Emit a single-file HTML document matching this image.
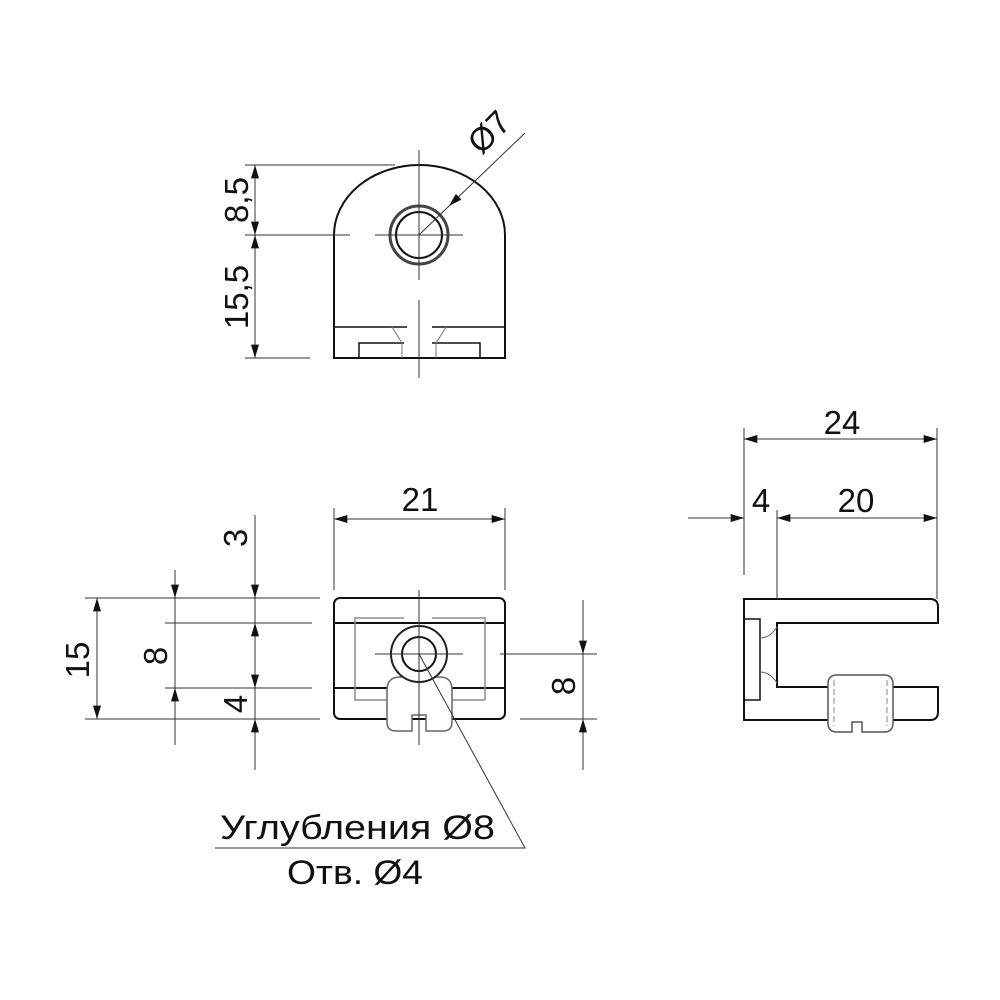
<!DOCTYPE html>
<html><head><meta charset="utf-8"><style>body{margin:0;background:#fff}svg{display:block}</style></head><body>
<svg width="1000" height="1000" viewBox="0 0 1000 1000" xmlns="http://www.w3.org/2000/svg" font-family="Liberation Sans, sans-serif" fill="none" stroke="#111">
<defs>
<marker id="a" viewBox="0 0 10 6" refX="10" refY="3" markerWidth="22" markerHeight="8" markerUnits="userSpaceOnUse" orient="auto-start-reverse"><path d="M0,0 L10,3 L0,6z" fill="#111" stroke="none"/></marker>
</defs>
<g stroke-width="2">
<path d="M334,358 L334,235 A85.5,70 0 0 1 505,235 L505,358 Z"/>
<circle cx="419" cy="235" r="29" stroke="#444" stroke-width="3"/>
<circle cx="419" cy="235" r="23"/>
<path d="M334,327 H407 M432,327 H505" stroke-width="1.5"/>
<path d="M359,358 V343 H404 M432,343 H480 V358" stroke-width="1.5"/>
<path d="M392,327 L402,343 V358 M446,327 L436,343 V358" stroke-width="1" stroke="#777"/>
</g>
<g stroke-width="1" stroke="#333">
<path d="M419,150 V280 M419,300 V378 M375,235 H463"/>
<path d="M245,165 H395 M245,235 H350 M245,358 H310"/>
<path d="M255,165 V358" marker-start="url(#a)" marker-end="url(#a)"/>
<path d="M255,200 V235" marker-end="url(#a)"/>
<path d="M255,270 V235" marker-end="url(#a)"/>
<path d="M525,133 L449,206" marker-end="url(#a)"/>
<path d="M449,206 L419,235"/>
</g>
<g fill="#111" stroke="none" font-size="33">
<text transform="translate(248,200) rotate(-90)" text-anchor="middle">8,5</text>
<text transform="translate(248,297) rotate(-90)" text-anchor="middle">15,5</text>
<text transform="translate(497,140) rotate(-45)" text-anchor="middle">Ø7</text>
</g>

<g stroke-width="2">
<rect x="334" y="598" width="171" height="121" rx="6"/>
<path d="M334,623 H505 M334,688 H505"/>
<path d="M355,688 V618 H404 M432,618 H485 V700 M355,688 V700 H404 M432,700 H485" stroke="#888" stroke-width="1.5"/>
<path d="M387,690 Q387,677 400,677 H440 Q452,677 452,690 V722 Q452,731 443,731 H426 V715 H412 V731 H396 Q387,731 387,722 Z" stroke="#666" stroke-width="1.5" fill="#fff"/>
<circle cx="419" cy="654" r="28" fill="#fff" stroke="#222"/>
<circle cx="419" cy="654" r="17"/>
</g>
<g stroke-width="1" stroke="#333">
<path d="M419,590 V745 M375,654 H463"/>
<path d="M85,598 H320 M85,719 H320 M165,623 H312 M165,688 H312"/>
<path d="M97,598 V719" marker-start="url(#a)" marker-end="url(#a)"/>
<path d="M175,570 V745"/>
<path d="M175,575 V598" marker-end="url(#a)"/>
<path d="M175,745 V688" marker-end="url(#a)"/>
<path d="M255,515 V770"/>
<path d="M255,555 V598" marker-end="url(#a)"/>
<path d="M255,655 V623" marker-end="url(#a)"/>
<path d="M255,655 V688" marker-end="url(#a)"/>
<path d="M255,765 V719" marker-end="url(#a)"/>
<path d="M334,508 V590 M505,508 V590"/>
<path d="M334,519 H505" marker-start="url(#a)" marker-end="url(#a)"/>
<path d="M500,654 H597 M520,719 H597"/>
<path d="M583,600 V770"/>
<path d="M583,620 V654" marker-end="url(#a)"/>
<path d="M583,765 V719" marker-end="url(#a)"/>
<path d="M419,654 L525,848 H215"/>
</g>
<g fill="#111" stroke="none" font-size="33">
<text x="420" y="511" text-anchor="middle">21</text>
<text transform="translate(89,660) rotate(-90)" text-anchor="middle">15</text>
<text transform="translate(167,656) rotate(-90)" text-anchor="middle">8</text>
<text transform="translate(247,538) rotate(-90)" text-anchor="middle">3</text>
<text transform="translate(247,704) rotate(-90)" text-anchor="middle">4</text>
<text transform="translate(575,686) rotate(-90)" text-anchor="middle">8</text>
<text x="220" y="839" font-size="34" textLength="275" lengthAdjust="spacingAndGlyphs">Углубления Ø8</text>
<text x="287" y="884" font-size="34" textLength="136" lengthAdjust="spacingAndGlyphs">Отв. Ø4</text>
</g>

<g stroke-width="2">
<path d="M744,599 H930 Q938,599 938,607 V623 H777 V687 H938 V712 Q938,720 930,720 H744 Z"/>
<rect x="744" y="619" width="16" height="81" stroke-width="1.5"/>
<path d="M760,638 Q770,638 777,627 M760,672 Q770,672 777,683" stroke-width="1" stroke="#666"/>
<path d="M828,684 Q828,675 837,675 H884 Q893,675 893,684 V723 Q893,732 884,732 H862 V722 H852 V732 H837 Q828,732 828,723 Z" stroke="#555" stroke-width="1.5" fill="#fff"/>
<path d="M834,680 V726 M887,680 V726" stroke="#888" stroke-width="1" stroke-dasharray="6,3"/>
</g>
<g stroke-width="1" stroke="#333">
<path d="M744,428 V575 M937,428 V599 M777,510 V599"/>
<path d="M744,439 H937" marker-start="url(#a)" marker-end="url(#a)"/>
<path d="M688,518 H744" marker-end="url(#a)"/>
<path d="M777,518 H937" marker-start="url(#a)" marker-end="url(#a)"/>
</g>
<g fill="#111" stroke="none" font-size="33">
<text x="842" y="434" text-anchor="middle">24</text>
<text x="761" y="512" text-anchor="middle">4</text>
<text x="856" y="512" text-anchor="middle">20</text>
</g>
</svg>
</body></html>
